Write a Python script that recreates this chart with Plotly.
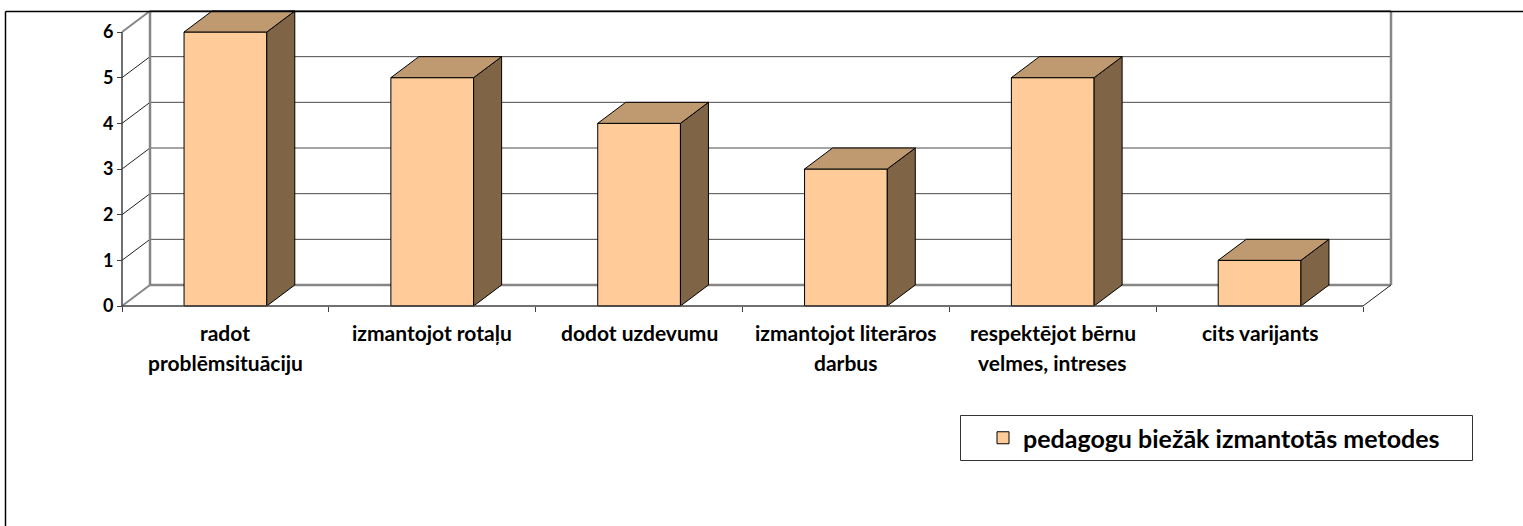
import plotly.graph_objects as go

categories = [["radot", "problēmsituāciju"], ["izmantojot rotaļu"], ["dodot uzdevumu"],
              ["izmantojot literāros", "darbus"], ["respektējot bērnu", "velmes, intreses"], ["cits varijants"]]
values = [6, 5, 4, 3, 5, 1]
y_ticks = [0, 1, 2, 3, 4, 5, 6]
series_name = "pedagogu biežāk izmantotās metodes"

W, H = 1523, 526
L, R, T, B = 118, 129, 8, 217
BAR_W = 0.4
UX, UY = 206.8, 45.6       # pixels per category / per unit
DX = 28 / UX
DY = 0.46
PAD_L, PAD_R, PAD_V = 4 / UX, 3 / UX, 3 / UY
FONT = "Lato"
FRONT, SIDE, TOP = "#FFCC99", "#7F6546", "#BF9A71"
WALL = "#868686"
n = len(values)
x0, x1 = -0.5, n - 0.5
xs = list(range(n))

fig = go.Figure()
fig.add_trace(go.Bar(x=xs, y=values, width=BAR_W, name=series_name,
                     marker=dict(color=FRONT, line=dict(color="black", width=1)),
                     showlegend=True, hoverinfo="skip"))
for c, v in zip(xs, values):
    a, b = c - BAR_W / 2, c + BAR_W / 2
    fig.add_trace(go.Scatter(x=[b, b + DX, b + DX, b, b], y=[0, DY, v + DY, v, 0], mode="lines", fill="toself",
                             fillcolor=SIDE, line=dict(color="black", width=1), showlegend=False, hoverinfo="skip"))
    fig.add_trace(go.Scatter(x=[a, b, b + DX, a + DX, a], y=[v, v, v + DY, v + DY, v], mode="lines", fill="toself",
                             fillcolor=TOP, line=dict(color="black", width=1), showlegend=False, hoverinfo="skip"))

shapes = []
def seg(xa, ya, xb, yb, color, width, layer="below"):
    shapes.append(dict(type="line", xref="x", yref="y", x0=xa, y0=ya, x1=xb, y1=yb,
                       line=dict(color=color, width=width), layer=layer))

for t in y_ticks[1:-1]:
    seg(x0 + DX, t + DY, x1 + DX, t + DY, "#4A4A4A", 1)
    seg(x0, t, x0 + DX, t + DY, "#222222", 1)
seg(x0 + DX, DY, x1 + DX, DY, WALL, 2.5)
seg(x0 + DX, y_ticks[-1] + DY, x1 + DX, y_ticks[-1] + DY, WALL, 2)
seg(x0 + DX, DY, x0 + DX, y_ticks[-1] + DY, WALL, 2.5)
seg(x1 + DX, DY, x1 + DX, y_ticks[-1] + DY, WALL, 2.5)
seg(x0, 0, x0 + DX, DY, WALL, 2)
seg(x0, y_ticks[-1], x0 + DX, y_ticks[-1] + DY, WALL, 2)
seg(x1, 0, x1 + DX, DY, "#222222", 1)
seg(x0, 0, x1, 0, "#404040", 1.5, "above")
seg(x0, 0, x0, y_ticks[-1], "#404040", 1.5, "above")

def px(x):
    return (x - L) / (W - L - R)
def py(y):
    return 1 - (y - T) / (H - T - B)

# outer chart frame (only top and left edges are visible)
for xa, ya, xb, yb in [(5.5, 11.5, W, 11.5), (5.5, 11.5, 5.5, H)]:
    shapes.append(dict(type="line", xref="paper", yref="paper", x0=px(xa), y0=py(ya), x1=px(xb), y1=py(yb),
                       line=dict(color="black", width=1.5), layer="above"))
# legend box
shapes.append(dict(type="rect", xref="paper", yref="paper", x0=px(960.5), y0=py(415.5), x1=px(1472.5), y1=py(460.5),
                   line=dict(color="#333333", width=1), fillcolor="rgba(0,0,0,0)", layer="above"))

annotations = []
for c, lines in zip(xs, categories):
    for i, line in enumerate(lines):
        annotations.append(dict(xref="x", yref="y", x=c, y=0, text=line, showarrow=False, yanchor="middle",
                                xanchor="center", yshift=-(26 + 30 * i),
                                font=dict(family=FONT, size=21, color="#000000", weight="bold")))

fig.update_layout(
    width=W, height=H, margin=dict(l=L, r=R, t=T, b=B, pad=0),
    paper_bgcolor="white", plot_bgcolor="white",
    shapes=shapes, annotations=annotations, barmode="overlay",
    font=dict(family=FONT, color="#000000"),
    xaxis=dict(range=[x0 - PAD_L, x1 + DX + PAD_R], tickmode="array", tickvals=[x0 + i for i in range(n + 1)],
               ticks="outside", ticklen=5, tickwidth=1, tickcolor="#404040", showticklabels=False, showgrid=False,
               zeroline=False, showline=False, fixedrange=True, anchor="free",
               position=PAD_V * UY / (H - T - B)),
    yaxis=dict(range=[-PAD_V, y_ticks[-1] + DY + PAD_V], tickmode="array", tickvals=y_ticks, ticks="outside",
               ticklen=5, tickwidth=1, tickcolor="#404040", showgrid=False, zeroline=False, showline=False,
               fixedrange=True, anchor="free", position=PAD_L * UX / (W - L - R),
               tickfont=dict(family=FONT, size=18, color="#000000", weight="bold")),
    legend=dict(x=px(983), y=py(438), xanchor="left", yanchor="middle", bgcolor="rgba(0,0,0,0)", borderwidth=0,
                font=dict(family=FONT, size=25, color="#000000", weight="bold"), itemclick=False, itemdoubleclick=False),
    showlegend=True,
)
fig.write_html("out.html", config={"displayModeBar": False},
               post_script="document.body.style.margin='0';document.body.style.overflow='hidden';")
